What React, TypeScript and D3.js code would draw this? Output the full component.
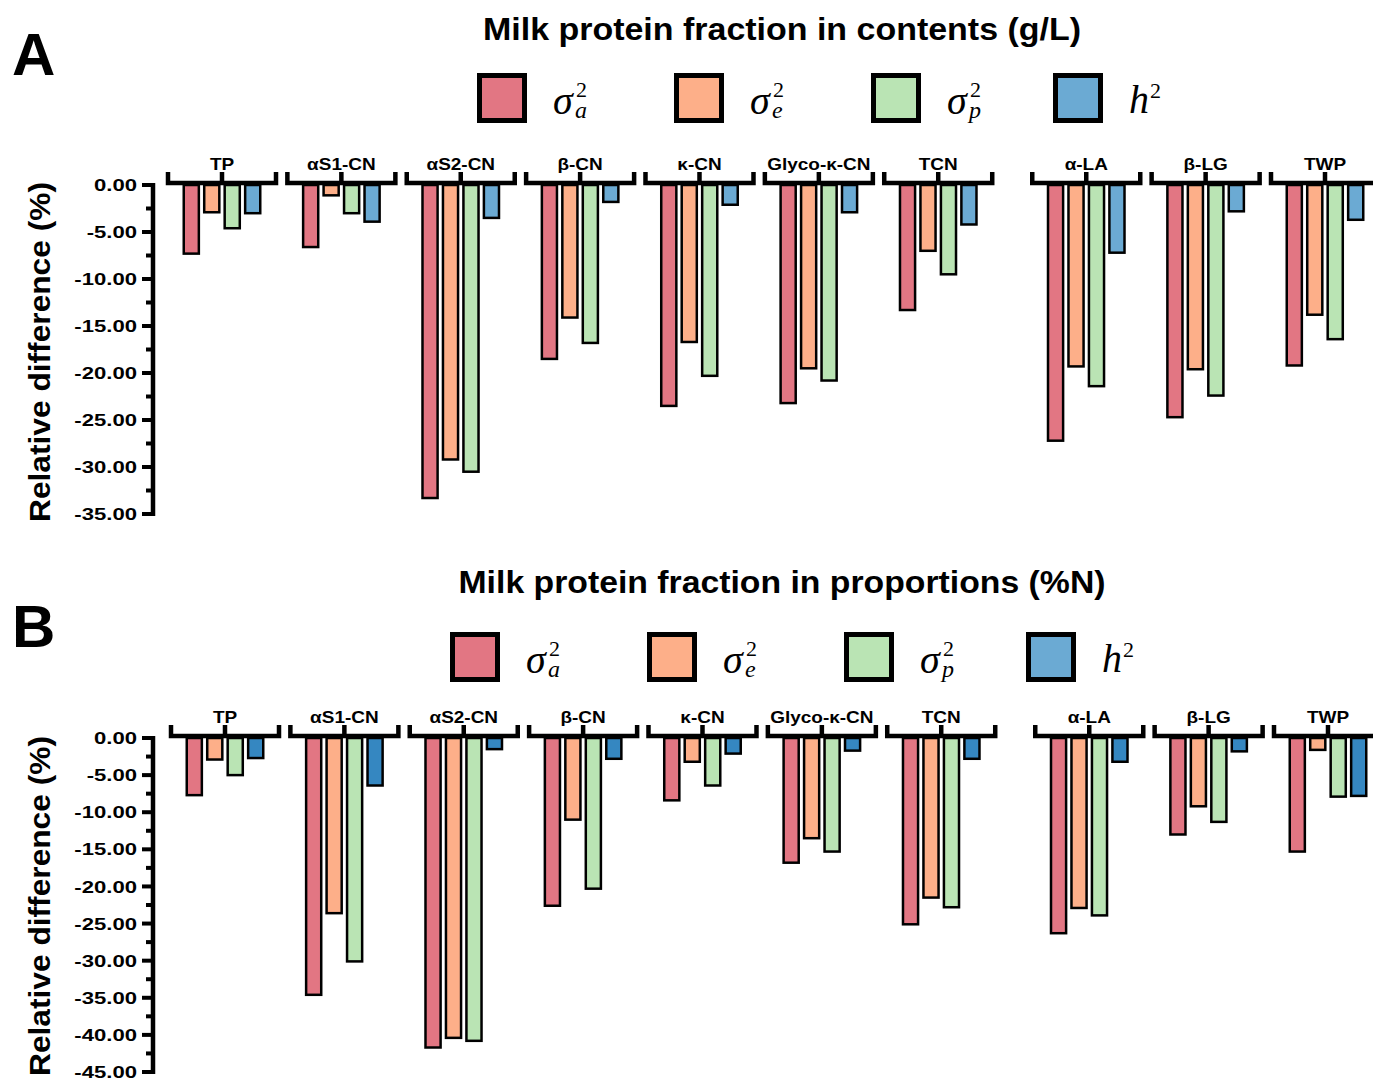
import React from "react";
import * as d3 from "d3";

const categories = ["TP", "αS1-CN", "αS2-CN", "β-CN", "κ-CN", "Glyco-κ-CN", "TCN", "α-LA", "β-LG", "TWP"];
const seriesKeys = ["sa", "se", "sp", "h2"];

// Panel A: contents (g/L)
const contentSigmaA = [-7.3, -6.6, -33.3, -18.5, -23.5, -23.2, -13.3, -27.2, -24.7, -19.2];
const contentSigmaE = [-2.9, -1.1, -29.2, -14.1, -16.7, -19.5, -7.0, -19.3, -19.6, -13.8];
const contentSigmaP = [-4.6, -3.0, -30.5, -16.8, -20.3, -20.8, -9.5, -21.4, -22.4, -16.4];
const contentH2 = [-3.0, -3.9, -3.5, -1.8, -2.1, -2.9, -4.2, -7.2, -2.8, -3.7];

// Panel B: proportions (%N)
const propSigmaA = [-7.7, -34.6, -41.7, -22.6, -8.4, -16.8, -25.1, -26.3, -13.0, -15.3];
const propSigmaE = [-2.9, -23.6, -40.4, -11.0, -3.2, -13.5, -21.5, -22.9, -9.2, -1.6];
const propSigmaP = [-5.0, -30.1, -40.8, -20.3, -6.4, -15.3, -22.8, -23.9, -11.3, -7.9];
const propH2 = [-2.7, -6.4, -1.5, -2.8, -2.1, -1.7, -2.8, -3.2, -1.8, -7.8];

const contentMin = -35;
const propMin = -45;

const COLORS = { sa: "#E27683", se: "#FDAF89", sp: "#BAE4B4", h2: "#6BAAD3" };
const H2_DARK = "#3587C1";
const SANS = "'Liberation Sans', Arial, sans-serif";
const SERIF = "'Liberation Serif', 'Times New Roman', serif";
const GAP = 0.24;

const fmt = d3.formatLocale({ decimal: ".", thousands: ",", grouping: [3], currency: ["", ""], minus: "-" }).format(".2f");

function LegendLabel({ x, y, k }: { x: number; y: number; k: string }) {
  if (k === "h2") {
    return (
      <g fontFamily={SERIF}>
        <text x={x} y={y - 1} fontSize={40} fontStyle="italic">h</text>
        <text x={x + 21} y={y - 16} fontSize={22}>2</text>
      </g>
    );
  }
  const sub = k === "sa" ? "a" : k === "se" ? "e" : "p";
  return (
    <g fontFamily={SERIF}>
      <text x={x} y={y} fontSize={40} fontStyle="italic">σ</text>
      <text x={x + 23} y={y - 17} fontSize={22}>2</text>
      <text x={x + 22} y={y + 4} fontSize={24} fontStyle="italic">{sub}</text>
    </g>
  );
}

type PanelProps = {
  letter: string;
  letterY: number;
  title: string;
  titleWidth: number;
  titleY: number;
  legendX: number[];
  legendY: number;
  zeroY: number;
  bottomY: number;
  minVal: number;
  xShift: number;
  labelY: number;
  ylabelCenter: number;
  data: number[][];
  h2Color: string;
};

function Panel(p: PanelProps) {
  const y = d3.scaleLinear().domain([0, p.minVal]).range([p.zeroY, p.bottomY]);
  const x = d3.scaleLinear().domain([0, 9 + GAP]).range([222 + p.xShift, 1325 + p.xShift]);
  const pos = (i: number) => x(i + (i >= 7 ? GAP : 0));
  const inner = d3.scaleBand<string>().domain(seriesKeys).range([-39.5, 39.5]).paddingInner(0.14);
  const majors = d3.range(0, p.minVal - 0.01, -5);
  const minors = d3.range(-2.5, p.minVal, -5);
  const axisX = 153;
  const colorOf = (k: string) => (k === "h2" ? p.h2Color : (COLORS as any)[k]);
  const bracketY = p.zeroY - 2;
  const halfW = 54;

  return (
    <g>
      <text x={12} y={p.letterY} fontFamily={SANS} fontWeight="bold" fontSize={60}>{p.letter}</text>
      <text x={782} y={p.titleY} textAnchor="middle" fontFamily={SANS} fontWeight="bold" fontSize={32}
        textLength={p.titleWidth} lengthAdjust="spacingAndGlyphs">{p.title}</text>

      {seriesKeys.map((k, i) => (
        <g key={k}>
          <rect x={p.legendX[i] + 2.5} y={p.legendY + 2.5} width={45} height={45} fill={COLORS[k as keyof typeof COLORS]}
            stroke="#000" strokeWidth={5} />
          <LegendLabel x={p.legendX[i] + 76} y={p.legendY + 41} k={k} />
        </g>
      ))}

      {/* y axis label */}
      <text transform={`translate(50,${p.ylabelCenter}) rotate(-90)`} textAnchor="middle" fontFamily={SANS}
        fontWeight="bold" fontSize={30} textLength={340} lengthAdjust="spacingAndGlyphs">Relative difference (%)</text>

      {/* y axis */}
      <line x1={axisX} x2={axisX} y1={y(0) - 2} y2={y(p.minVal) + 2} stroke="#000" strokeWidth={4.5} />
      {majors.map((v) => (
        <g key={"M" + v}>
          <line x1={axisX - 11} x2={axisX} y1={y(v)} y2={y(v)} stroke="#000" strokeWidth={4} />
          <text transform={`translate(137,${y(v)}) scale(1.3,1)`} textAnchor="end" dy="0.36em"
            fontFamily={SANS} fontWeight="bold" fontSize={17}>{fmt(v)}</text>
        </g>
      ))}
      {minors.map((v) => (
        <line key={"m" + v} x1={axisX - 7} x2={axisX} y1={y(v)} y2={y(v)} stroke="#000" strokeWidth={4} />
      ))}

      {categories.map((c, i) => {
        const cx = pos(i);
        return (
          <g key={c}>
            <text transform={`translate(${cx},${p.labelY}) scale(1.15,1)`} textAnchor="middle" fontFamily={SANS}
              fontWeight="bold" fontSize={16.5}>{c}</text>
            {seriesKeys.map((k, j) => {
              const v = p.data[j][i];
              const bx = cx + (inner(k) as number);
              const bw = inner.bandwidth();
              return (
                <rect key={k} x={bx + 1.25} y={y(0)} width={bw - 2.5} height={y(v) - y(0)}
                  fill={colorOf(k)} stroke="#000" strokeWidth={2.5} />
              );
            })}
            <path d={`M${cx - halfW},${bracketY - 11}V${bracketY}H${cx + halfW}V${bracketY - 11}M${cx},${bracketY}V${bracketY - 11}`}
              fill="none" stroke="#000" strokeWidth={4.5} />
          </g>
        );
      })}
    </g>
  );
}

export default function App() {
  return (
    <svg width={1373} height={1080} style={{ display: "block", position: "absolute", left: 0, top: 0, background: "#fff" }}>
      <rect width={1373} height={1080} fill="#fff" />
      <Panel
        letter="A" letterY={75}
        title="Milk protein fraction in contents (g/L)" titleWidth={598} titleY={40}
        legendX={[477, 674, 871, 1053]} legendY={73}
        zeroY={185} bottomY={514} minVal={contentMin} xShift={0} labelY={170} ylabelCenter={352}
        data={[contentSigmaA, contentSigmaE, contentSigmaP, contentH2]} h2Color={COLORS.h2}
      />
      <Panel
        letter="B" letterY={647}
        title="Milk protein fraction in proportions (%N)" titleWidth={647} titleY={593}
        legendX={[450, 647, 844, 1026]} legendY={632}
        zeroY={738} bottomY={1072} minVal={propMin} xShift={3} labelY={723} ylabelCenter={906}
        data={[propSigmaA, propSigmaE, propSigmaP, propH2]} h2Color={H2_DARK}
      />
    </svg>
  );
}
